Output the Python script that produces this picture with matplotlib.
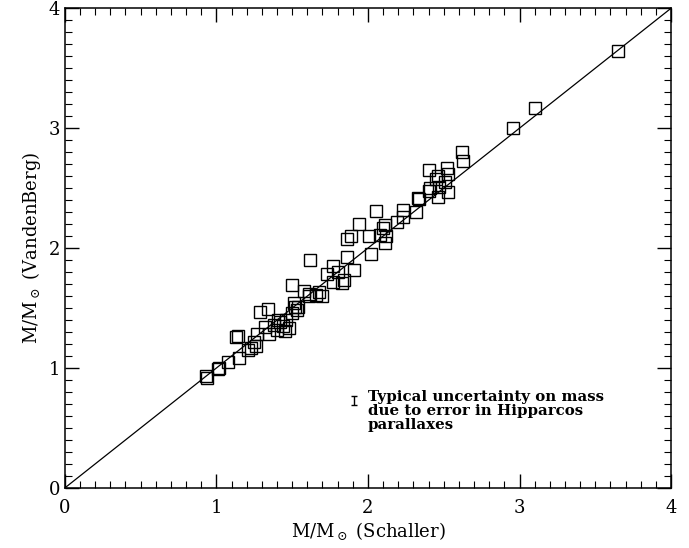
import numpy as np
import matplotlib
matplotlib.use("Agg")
import matplotlib.pyplot as plt
from matplotlib.ticker import MultipleLocator

plt.rcParams['font.family'] = ['DejaVu Serif']
plt.rcParams['mathtext.fontset'] = 'dejavuserif'

# masses from the two sets of evolutionary tracks
m_schaller = [
    0.94, 0.93, 1.02, 1.01, 1.08, 1.15, 1.13, 1.14, 1.21, 1.23, 1.25, 1.26,
    1.27, 1.29, 1.34, 1.32, 1.35, 1.38, 1.40, 1.42, 1.44, 1.46, 1.48, 1.45,
    1.41, 1.50, 1.52, 1.54, 1.50, 1.53, 1.51, 1.58, 1.61, 1.62, 1.66, 1.70,
    1.68, 1.61, 1.73, 1.77, 1.80, 1.77, 1.83, 1.86, 1.89, 1.86, 1.91, 1.94,
    1.84, 2.02, 2.01, 2.05, 2.08, 2.11, 2.12, 2.11, 2.10, 2.19, 2.23, 2.23,
    2.32, 2.33, 2.34, 2.40, 2.41, 2.46, 2.47, 2.40, 2.52, 2.53, 2.51, 2.53,
    2.46, 2.45, 2.62, 2.63, 2.96, 3.10, 3.65,
]
m_vandenberg = [
    0.92, 0.93, 1.00, 0.99, 1.05, 1.08, 1.26, 1.27, 1.15, 1.17, 1.22, 1.18,
    1.28, 1.47, 1.49, 1.34, 1.28, 1.36, 1.32, 1.38, 1.35, 1.40, 1.33, 1.31,
    1.40, 1.46, 1.51, 1.51, 1.69, 1.48, 1.54, 1.64, 1.60, 1.90, 1.61, 1.60,
    1.63, 1.62, 1.78, 1.85, 1.80, 1.72, 1.71, 1.93, 2.10, 2.08, 1.82, 2.20,
    1.73, 1.95, 2.10, 2.31, 2.11, 2.19, 2.10, 2.04, 2.17, 2.22, 2.32, 2.26,
    2.30, 2.42, 2.41, 2.65, 2.50, 2.60, 2.51, 2.48, 2.67, 2.62, 2.55, 2.47,
    2.43, 2.58, 2.80, 2.73, 3.00, 3.17, 3.64,
]

fig = plt.figure(figsize=(6.89, 5.48), dpi=100)
ax = fig.add_axes([0.094, 0.1095, 0.880, 0.8755])

ax.plot([0, 4], [0, 4], color='black', lw=0.9)
ax.plot(m_schaller, m_vandenberg, linestyle='none', marker='s', markersize=8,
        markerfacecolor='none', markeredgecolor='black', markeredgewidth=1.0)

# typical error bar from the parallax uncertainty
ax.errorbar([1.91], [0.73], yerr=[0.035], fmt='none', ecolor='black',
            elinewidth=1.0, capsize=2.5, capthick=1.0)
ax.text(2.0, 0.82, 'Typical uncertainty on mass\ndue to error in Hipparcos\nparallaxes',
        fontsize=10.8, fontweight='bold', va='top', ha='left', linespacing=1.0)

ax.set_xlim(0, 4)
ax.set_ylim(0, 4)
ax.xaxis.set_major_locator(MultipleLocator(1))
ax.yaxis.set_major_locator(MultipleLocator(1))
ax.xaxis.set_minor_locator(MultipleLocator(0.1))
ax.yaxis.set_minor_locator(MultipleLocator(0.1))
ax.tick_params(which='both', direction='in', top=True, right=True, labelsize=13)
ax.tick_params(which='major', length=10, width=1)
ax.tick_params(which='minor', length=5, width=0.8)
ax.tick_params(axis='x', pad=8)
for spine in ax.spines.values():
    spine.set_linewidth(1.1)

ax.set_xlabel(r'M/M$_\odot$ (Schaller)', fontsize=13, labelpad=2)
ax.set_ylabel(r'M/M$_\odot$ (VandenBerg)', fontsize=13, labelpad=4)

fig.savefig('out.png', dpi=100)
